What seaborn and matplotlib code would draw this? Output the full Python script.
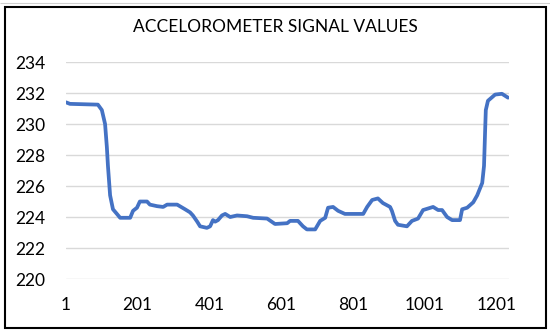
import numpy as np
import pandas as pd
import matplotlib
matplotlib.use("Agg")
import matplotlib.pyplot as plt
import seaborn as sns
from matplotlib.patches import Rectangle

# Sample index (x) and signal value (y)
sample_index = [1, 12, 90, 101, 110, 115, 118, 124, 132, 143, 152, 180, 188, 199,
                207, 227, 235, 255, 272, 283, 311, 333, 347, 355, 367, 375, 394,
                403, 411, 417, 425, 436, 445, 459, 478, 506, 523, 562, 584, 618,
                626, 648, 662, 673, 696, 710, 724, 732, 746, 760, 779, 830, 841,
                855, 871, 885, 905, 910, 919, 927, 952, 966, 983, 997, 1025, 1039,
                1050, 1064, 1078, 1100, 1106, 1120, 1137, 1148, 1162, 1167, 1170,
                1172, 1178, 1198, 1217, 1234]
signal_value = [231.4, 231.3, 231.25, 230.9, 230.0, 228.5, 227.3, 225.4, 224.5, 224.2,
                223.95, 223.95, 224.4, 224.6, 225.0, 225.0, 224.8, 224.7, 224.65,
                224.8, 224.8, 224.5, 224.3, 224.1, 223.7, 223.4, 223.3, 223.4, 223.8,
                223.7, 223.8, 224.1, 224.2, 224.0, 224.1, 224.05, 223.95, 223.9,
                223.55, 223.6, 223.75, 223.75, 223.4, 223.2, 223.2, 223.75, 223.95,
                224.6, 224.65, 224.4, 224.2, 224.2, 224.65, 225.1, 225.2, 224.9,
                224.65, 224.4, 223.75, 223.5, 223.4, 223.75, 223.9, 224.45, 224.65,
                224.45, 224.45, 224.0, 223.8, 223.8, 224.5, 224.6, 224.95, 225.4,
                226.2, 227.3, 229.5, 230.9, 231.5, 231.9, 231.95, 231.7]
x_ticks = [1, 201, 401, 601, 801, 1001, 1201]
y_ticks = [220, 222, 224, 226, 228, 230, 232, 234]
title = "ACCELOROMETER SIGNAL VALUES"

df = pd.DataFrame({"idx": sample_index, "val": signal_value})

sns.set_style("white")
plt.rcParams["font.family"] = ["Lato", "DejaVu Sans"]

fig = plt.figure(figsize=(5.5, 3.32), dpi=100)
ax = fig.add_axes([0.12, 0.1596, 0.805, 0.6536])

sns.lineplot(data=df, x="idx", y="val", ax=ax, color="#4472C4", linewidth=2.7,
             solid_joinstyle="round", solid_capstyle="round")

ax.set_xlim(1, 1236)
ax.set_ylim(220, 234)
ax.set_xticks(x_ticks)
ax.set_xticklabels([str(t) for t in x_ticks])
ax.set_yticks(y_ticks)
ax.set_yticklabels([str(t) for t in y_ticks])
ax.set_xlabel("")
ax.set_ylabel("")
ax.grid(axis="y", color="#D9D9D9", linewidth=1.0)
ax.grid(axis="x", visible=False)
ax.set_axisbelow(True)
for s in ax.spines.values():
    s.set_visible(False)
ax.tick_params(axis="both", length=0, labelsize=12.5, colors="#000000")
ax.tick_params(axis="y", pad=15)
ax.tick_params(axis="x", pad=13)

fig.text(0.5, 0.918, title, ha="center", va="center", fontsize=12.5, color="#000000")

# outer chart border
fig.patches.append(Rectangle((5/550, 1 - 328/332), 541/550, 321/332,
                             transform=fig.transFigure, fill=False,
                             edgecolor="#000000", linewidth=1.5))
fig.patches.append(Rectangle((0, 1 - 3/332), 1, 0, transform=fig.transFigure,
                             fill=False, edgecolor="#D0D0D0", linewidth=0.8))

fig.savefig("out.png", dpi=100)
